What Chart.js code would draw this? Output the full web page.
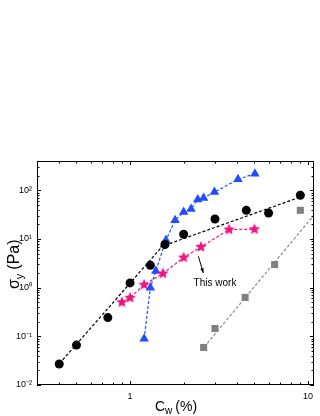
<!DOCTYPE html>
<html>
<head>
<meta charset="utf-8">
<script src="https://cdn.jsdelivr.net/npm/chart.js@4.4.1/dist/chart.umd.min.js"></script>
<style>
  html, body { margin: 0; padding: 0; background: #fff; }
  #wrap { width: 320px; height: 416px; }
</style>
</head>
<body>
<div id="wrap"><canvas id="c"></canvas></div>
<script>
// values: Cw (%) vs sigma_y (Pa)
const circleX = [0.40, 0.50, 0.75, 1.0, 1.30, 1.57, 2.0, 3.0, 4.5, 6.0, 9.05];
const circleY = [0.027, 0.066, 0.243, 1.25, 2.88, 7.7, 12.5, 25.8, 38.8, 34.2, 79];
const triX = [1.2, 1.3, 1.395, 1.59, 1.79, 2.0, 2.2, 2.4, 2.59, 2.98, 4.04, 5.03];
const triY = [0.089, 1.0, 2.2, 9.4, 24.2, 35.8, 41.3, 64.4, 69.5, 92, 168, 220];
const starX = [0.90, 1.0, 1.2, 1.53, 2.0, 2.5, 3.6, 5.0];
const starY = [0.50, 0.62, 1.15, 1.95, 4.15, 6.85, 15.6, 15.8];
const squareX = [2.59, 3.0, 4.43, 6.49, 9.05];
const squareY = [0.059, 0.145, 0.63, 2.98, 38.8];

// dashed fit lines (end points)
const fitSteepX = [0.384, 1.64];
const fitSteepY = [0.023, 9.7];
const fitFlatX = [1.475, 9.05];
const fitFlatY = [6.85, 72.8];
const fitGrayX = [2.5, 10.8];
const fitGrayY = [0.05, 31];

// axes
const xMajor = [1, 10];
const xTickText = ['1', '10'];
const yMajor = [0.01, 0.1, 1, 10, 100];
const yTickText = ['10⁻²', '10⁻¹', '10⁰', '10¹', '10²'];

const FONT = "'Liberation Sans', Arial, sans-serif";
const zip = (xs, ys) => xs.map((x, i) => ({ x, y: ys[i] }));

// filled 5 point star for the pink series
function starImage(r, color) {
  const c = document.createElement('canvas');
  c.width = c.height = Math.ceil(r * 2 + 2);
  const g = c.getContext('2d');
  const cx = c.width / 2, cy = c.height / 2;
  g.beginPath();
  for (let i = 0; i < 10; i++) {
    const rr = i % 2 ? r * 0.45 : r;
    const a = -Math.PI / 2 + i * Math.PI / 5;
    g.lineTo(cx + rr * Math.cos(a), cy + rr * Math.sin(a));
  }
  g.closePath();
  g.fillStyle = color;
  g.fill();
  return c;
}

const frameTicks = {
  id: 'frameTicks',
  afterDraw(chart) {
    const { ctx, chartArea: a, scales: { x, y } } = chart;
    ctx.save();
    ctx.strokeStyle = '#000';
    ctx.lineWidth = 1;
    ctx.strokeRect(a.left + 0.5, a.top + 0.5, a.right - a.left - 1, a.bottom - a.top - 1);

    ctx.beginPath();
    for (let e = -1; e <= 1; e++) {
      for (let m = 1; m < 10; m++) {
        const v = m * Math.pow(10, e);
        if (v < x.min || v > x.max) continue;
        const px = Math.round(x.getPixelForValue(v)) + 0.5;
        const len = m === 1 ? 4 : 2.5;
        ctx.moveTo(px, a.bottom); ctx.lineTo(px, a.bottom - len);
        ctx.moveTo(px, a.top); ctx.lineTo(px, a.top + len);
      }
    }
    for (let e = -2; e <= 2; e++) {
      for (let m = 1; m < 10; m++) {
        const v = m * Math.pow(10, e);
        if (v < y.min || v > y.max) continue;
        const py = Math.round(y.getPixelForValue(v)) + 0.5;
        const len = m === 1 ? 4 : 2.5;
        ctx.moveTo(a.left, py); ctx.lineTo(a.left + len, py);
        ctx.moveTo(a.right, py); ctx.lineTo(a.right - len, py);
      }
    }
    ctx.stroke();

    // axis titles
    ctx.fillStyle = '#000';
    ctx.textBaseline = 'alphabetic';
    ctx.font = '14px ' + FONT;
    let tx = 155;
    ctx.fillText('C', tx, 411);
    tx += ctx.measureText('C').width;
    ctx.font = '10px ' + FONT;
    ctx.fillText('w', tx, 414);
    tx += ctx.measureText('w').width + 3;
    ctx.font = '14px ' + FONT;
    ctx.fillText('(%)', tx, 411);

    ctx.save();
    ctx.translate(19, 289);
    ctx.rotate(-Math.PI / 2);
    ctx.font = '16px ' + FONT;
    let ty = 0;
    ctx.fillText('σ', ty, 0);
    ty += ctx.measureText('σ').width;
    ctx.font = '11px ' + FONT;
    ctx.fillText('y', ty, 4);
    ty += ctx.measureText('y').width + 4;
    ctx.font = '16px ' + FONT;
    ctx.fillText('(Pa)', ty, 0);
    ctx.restore();

    // "This work" note with arrow
    const x0 = x.getPixelForValue(2.42), y0 = y.getPixelForValue(4.4);
    const x1 = x.getPixelForValue(2.58), y1 = y.getPixelForValue(2.0);
    ctx.beginPath();
    ctx.moveTo(x0, y0); ctx.lineTo(x1, y1);
    ctx.stroke();
    const ang = Math.atan2(y1 - y0, x1 - x0);
    ctx.beginPath();
    ctx.moveTo(x1, y1);
    ctx.lineTo(x1 - 5 * Math.cos(ang - 0.35), y1 - 5 * Math.sin(ang - 0.35));
    ctx.lineTo(x1 - 5 * Math.cos(ang + 0.35), y1 - 5 * Math.sin(ang + 0.35));
    ctx.closePath();
    ctx.fill();
    ctx.font = '10px ' + FONT;
    ctx.textAlign = 'center';
    ctx.textBaseline = 'middle';
    ctx.fillText('This work', x.getPixelForValue(3.0), y.getPixelForValue(1.23));
    ctx.restore();
  }
};

const dash = [3, 2];

new Chart(document.getElementById('c'), {
  type: 'scatter',
  data: {
    datasets: [
      {
        data: zip(circleX, circleY),
        pointStyle: 'circle', pointRadius: 4.5,
        backgroundColor: '#000', borderColor: '#000', borderWidth: 0,
        showLine: false,
      },
      {
        data: zip(starX, starY),
        pointStyle: starImage(6, '#f0147f'),
        showLine: true, borderColor: '#f0147f', borderWidth: 1.2, borderDash: dash,
      },
      {
        data: zip(triX, triY),
        pointStyle: 'triangle', pointRadius: 5.5,
        backgroundColor: '#1f4dff', pointBorderColor: '#1f4dff', pointBorderWidth: 0,
        showLine: true, borderColor: '#1f4dff', borderWidth: 1.2, borderDash: dash,
      },
      {
        data: zip(squareX, squareY),
        pointStyle: 'rect', pointRadius: 5,
        backgroundColor: '#808080', borderColor: '#808080', borderWidth: 0,
        showLine: false,
      },
      {
        data: zip(fitSteepX, fitSteepY),
        showLine: true, pointRadius: 0, borderColor: '#000', borderWidth: 1.2, borderDash: dash,
      },
      {
        data: zip(fitFlatX, fitFlatY),
        showLine: true, pointRadius: 0, borderColor: '#000', borderWidth: 1.2, borderDash: dash,
      },
      {
        data: zip(fitGrayX, fitGrayY),
        showLine: true, pointRadius: 0, borderColor: '#8c8c8c', borderWidth: 1.2, borderDash: dash,
      },
    ],
  },
  options: {
    responsive: true,
    maintainAspectRatio: false,
    animation: false,
    layout: { padding: { top: 161, right: 6, bottom: 0, left: 0 } },
    plugins: { legend: { display: false }, tooltip: { enabled: false } },
    scales: {
      x: {
        type: 'logarithmic', min: 0.3, max: 10.8,
        grid: { display: false, drawTicks: false },
        border: { display: false },
        afterBuildTicks: s => { s.ticks = xMajor.map(v => ({ value: v })); },
        afterFit: s => { s.height = 31; },
        ticks: {
          autoSkip: false, maxRotation: 0, padding: 6, color: '#000',
          font: { size: 9, family: FONT },
          callback: (v, i) => xTickText[i],
        },
      },
      y: {
        type: 'logarithmic', min: 0.01, max: 400,
        grid: { display: false, drawTicks: false },
        border: { display: false },
        afterBuildTicks: s => { s.ticks = yMajor.map(v => ({ value: v })); },
        afterFit: s => { s.width = 37; },
        ticks: {
          autoSkip: false, padding: 5, color: '#000',
          font: { size: 9, family: FONT },
          callback: (v, i) => yTickText[i],
        },
      },
    },
  },
  plugins: [frameTicks],
});
</script>
</body>
</html>
